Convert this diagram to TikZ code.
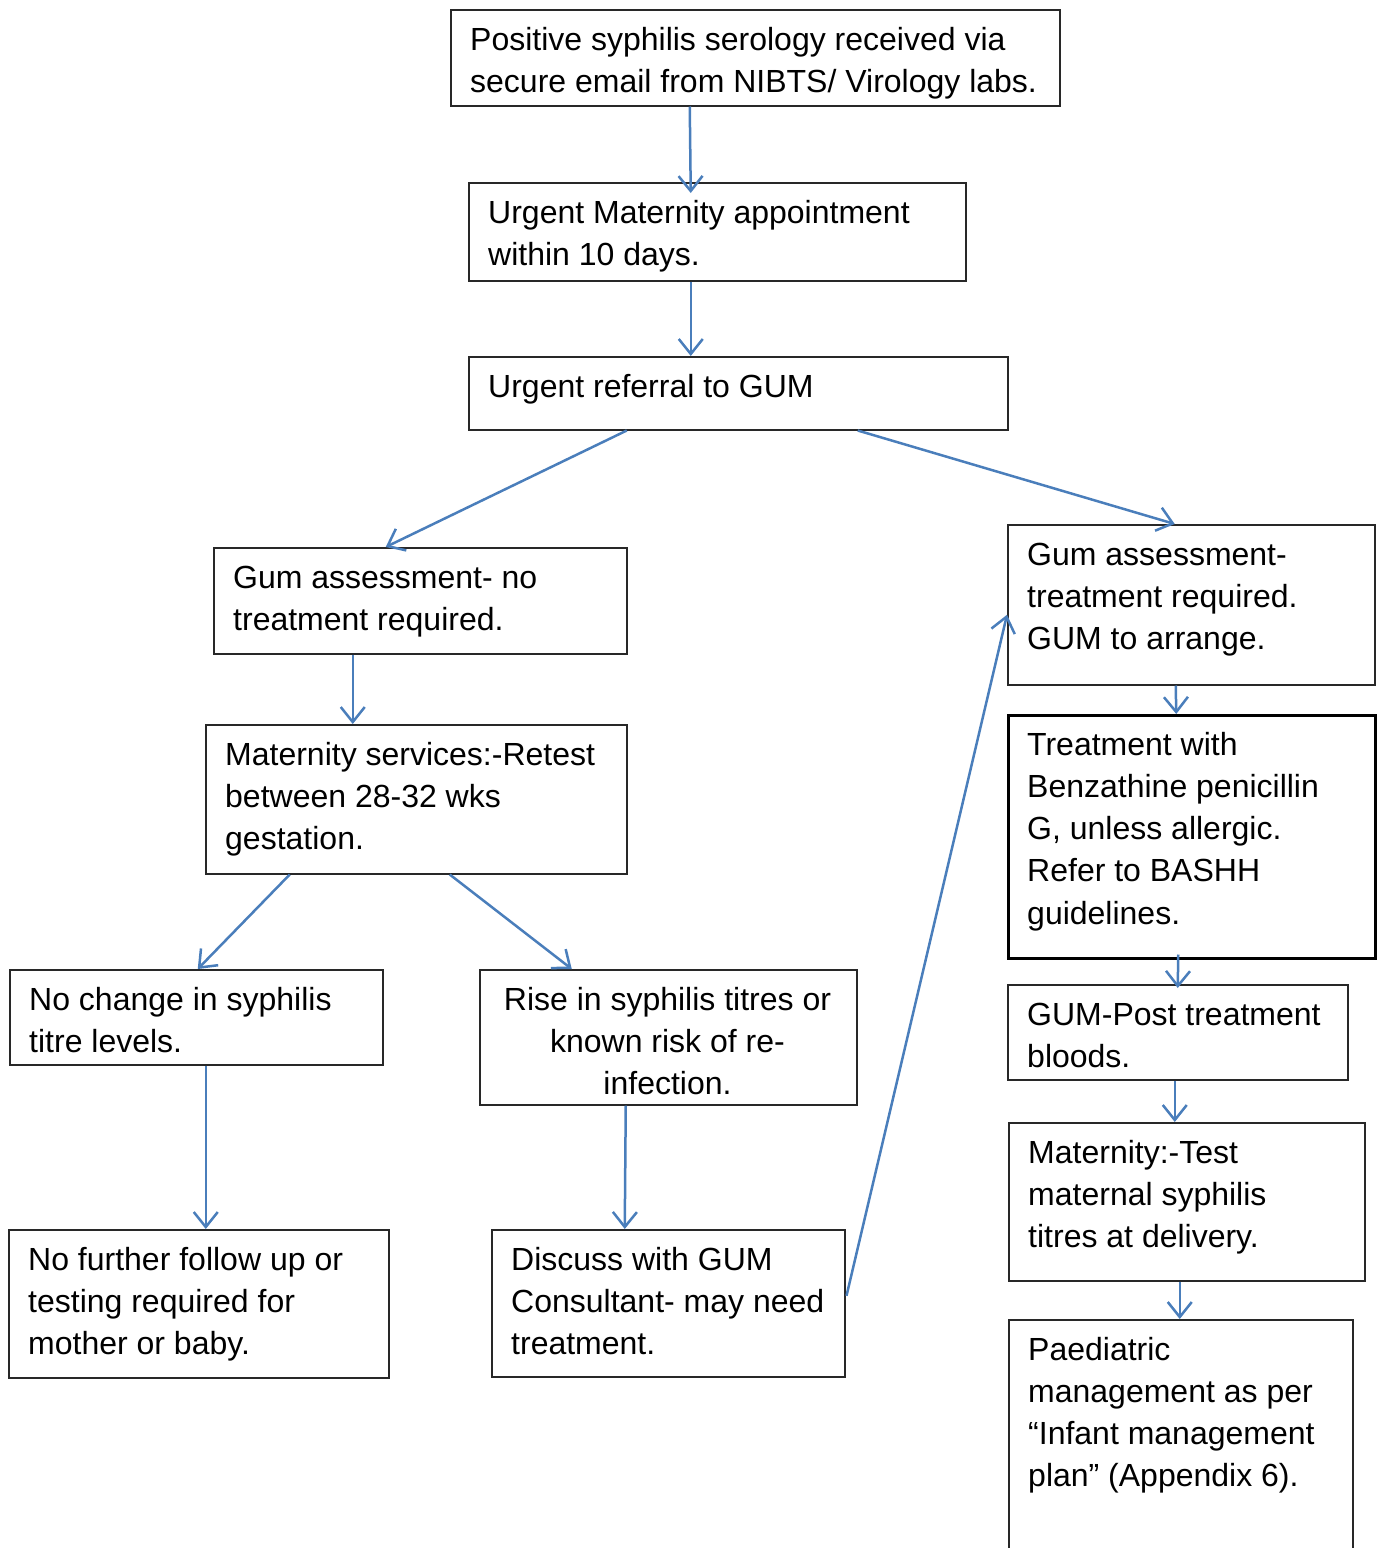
\documentclass[tikz,border=0pt]{standalone}
\usepackage{fontspec}
\setmainfont{Liberation Sans}
\usetikzlibrary{arrows.meta}
\definecolor{arrowblue}{RGB}{74,126,187}
\definecolor{boxline}{RGB}{40,40,40}
\tikzset{
  box/.style={draw=boxline, line width=1.5pt, inner sep=0pt, anchor=north west},
  txt/.style={inner sep=0pt, anchor=base west, font=\fontsize{32}{42.3}\selectfont},
  ctxt/.style={inner sep=0pt, anchor=base, font=\fontsize{32}{42.3}\selectfont},
  arr/.style={draw=arrowblue, line width=2.5pt, -{Straight Barb[length=15pt,width=24pt]}}
}
\newcommand{\lbox}[2]{\parbox[t]{#1pt}{\raggedright #2}}
\newcommand{\cbox}[2]{\parbox[t]{#1pt}{\centering #2}}
\begin{document}
\begin{tikzpicture}[x=1pt,y=-1pt]
\useasboundingbox (0,0) rectangle (1377,1548);
\clip (0,0) rectangle (1377,1548);
% boxes
\node[box, minimum width=609pt, minimum height=96pt] (A) at (450,9) {};
\node[box, minimum width=497pt, minimum height=98pt] (B) at (468,182) {};
\node[box, minimum width=539pt, minimum height=73pt] (C) at (468,356) {};
\node[box, minimum width=413pt, minimum height=106pt] (D) at (213,547) {};
\node[box, minimum width=421pt, minimum height=149pt] (E) at (205,724) {};
\node[box, minimum width=373pt, minimum height=95pt] (F) at (9,969) {};
\node[box, minimum width=377pt, minimum height=135pt] (G) at (479,969) {};
\node[box, minimum width=380pt, minimum height=148pt] (H) at (8,1229) {};
\node[box, minimum width=353pt, minimum height=147pt] (I) at (491,1229) {};
\node[box, minimum width=367pt, minimum height=160pt] (J) at (1007,524) {};
\node[box, draw=black, line width=2.5pt, minimum width=367pt, minimum height=243pt] (K) at (1007,714) {};
\node[box, minimum width=340pt, minimum height=95pt] (L) at (1007,984) {};
\node[box, minimum width=356pt, minimum height=158pt] (M) at (1008,1122) {};
\node[box, minimum width=344pt, minimum height=270pt] (N) at (1008,1319) {};
% texts
\node[txt] (At) at (470,50) {\lbox{589}{Positive syphilis serology received via\\secure email from NIBTS/ Virology labs.}};
\node[txt] (Bt) at (488,223) {\lbox{477}{Urgent Maternity appointment\\within 10 days.}};
\node[txt] (Ct) at (488,397) {\lbox{519}{Urgent referral to GUM}};
\node[txt] (Dt) at (233,588) {\lbox{393}{Gum assessment- no\\treatment required.}};
\node[txt] (Et) at (225,765) {\lbox{401}{Maternity services:-Retest\\between 28-32 wks\\gestation.}};
\node[txt] (Ft) at (29,1010) {\lbox{353}{No change in syphilis\\titre levels.}};
\node[ctxt] (Gt) at (667.5,1010) {\cbox{377}{Rise in syphilis titres or\\known risk of re-\\infection.}};
\node[txt] (Ht) at (28,1270) {\lbox{360}{No further follow up or\\testing required for\\mother or baby.}};
\node[txt] (It) at (511,1270) {\lbox{333}{Discuss with GUM\\Consultant- may need\\treatment.}};
\node[txt] (Jt) at (1027,565) {\lbox{347}{Gum assessment-\\treatment required.\\GUM to arrange.}};
\node[txt] (Kt) at (1027,755) {\lbox{347}{Treatment with\\Benzathine penicillin\\G, unless allergic.\\Refer to BASHH\\guidelines.}};
\node[txt] (Lt) at (1027,1025) {\lbox{320}{GUM-Post treatment\\bloods.}};
\node[txt] (Mt) at (1028,1163) {\lbox{336}{Maternity:-Test\\maternal syphilis\\titres at delivery.}};
\node[txt] (Nt) at (1028,1360) {\lbox{324}{Paediatric\\management as per\\“Infant management\\plan” (Appendix 6).}};
% connectors
\draw[arr] ([xshift=-65.5pt]A.south) -- ([xshift=-26.5pt,yshift=-11pt]B.north);
\draw[arr] ([xshift=-26.5pt]B.south) -- ([xshift=-47.5pt]C.north);
\draw[arr] ([xshift=-111.5pt]C.south) -- ([xshift=-34.5pt]D.north);
\draw[arr] ([xshift=119.5pt]C.south) -- ([xshift=-16.5pt]J.north);
\draw[arr] ([xshift=-67.5pt]D.south) -- ([xshift=-63.5pt]E.north);
\draw[arr] ([xshift=-126.5pt]E.south) -- ([xshift=1.5pt]F.north);
\draw[arr] ([xshift=33.5pt]E.south) -- ([xshift=-96.5pt]G.north);
\draw[arr] ([xshift=9.5pt]F.south) -- ([xshift=7pt]H.north);
\draw[arr] ([xshift=-42.5pt]G.south) -- ([xshift=-43.5pt]I.north);
\draw[arr] ([xshift=1pt,yshift=7.5pt]I.east) -- ([yshift=-10pt]J.west);
\draw[arr] ([xshift=-15.5pt]J.south) -- ([xshift=-15.5pt]K.north);
\draw[arr] ([xshift=-13.5pt,yshift=5pt]K.south) -- ([xshift=0pt,yshift=-4pt]L.north);
\draw[arr] ([xshift=-3pt]L.south) -- ([xshift=-12pt]M.north);
\draw[arr] ([xshift=-7pt]M.south) -- ([xshift=-1pt]N.north);
\end{tikzpicture}
\end{document}
